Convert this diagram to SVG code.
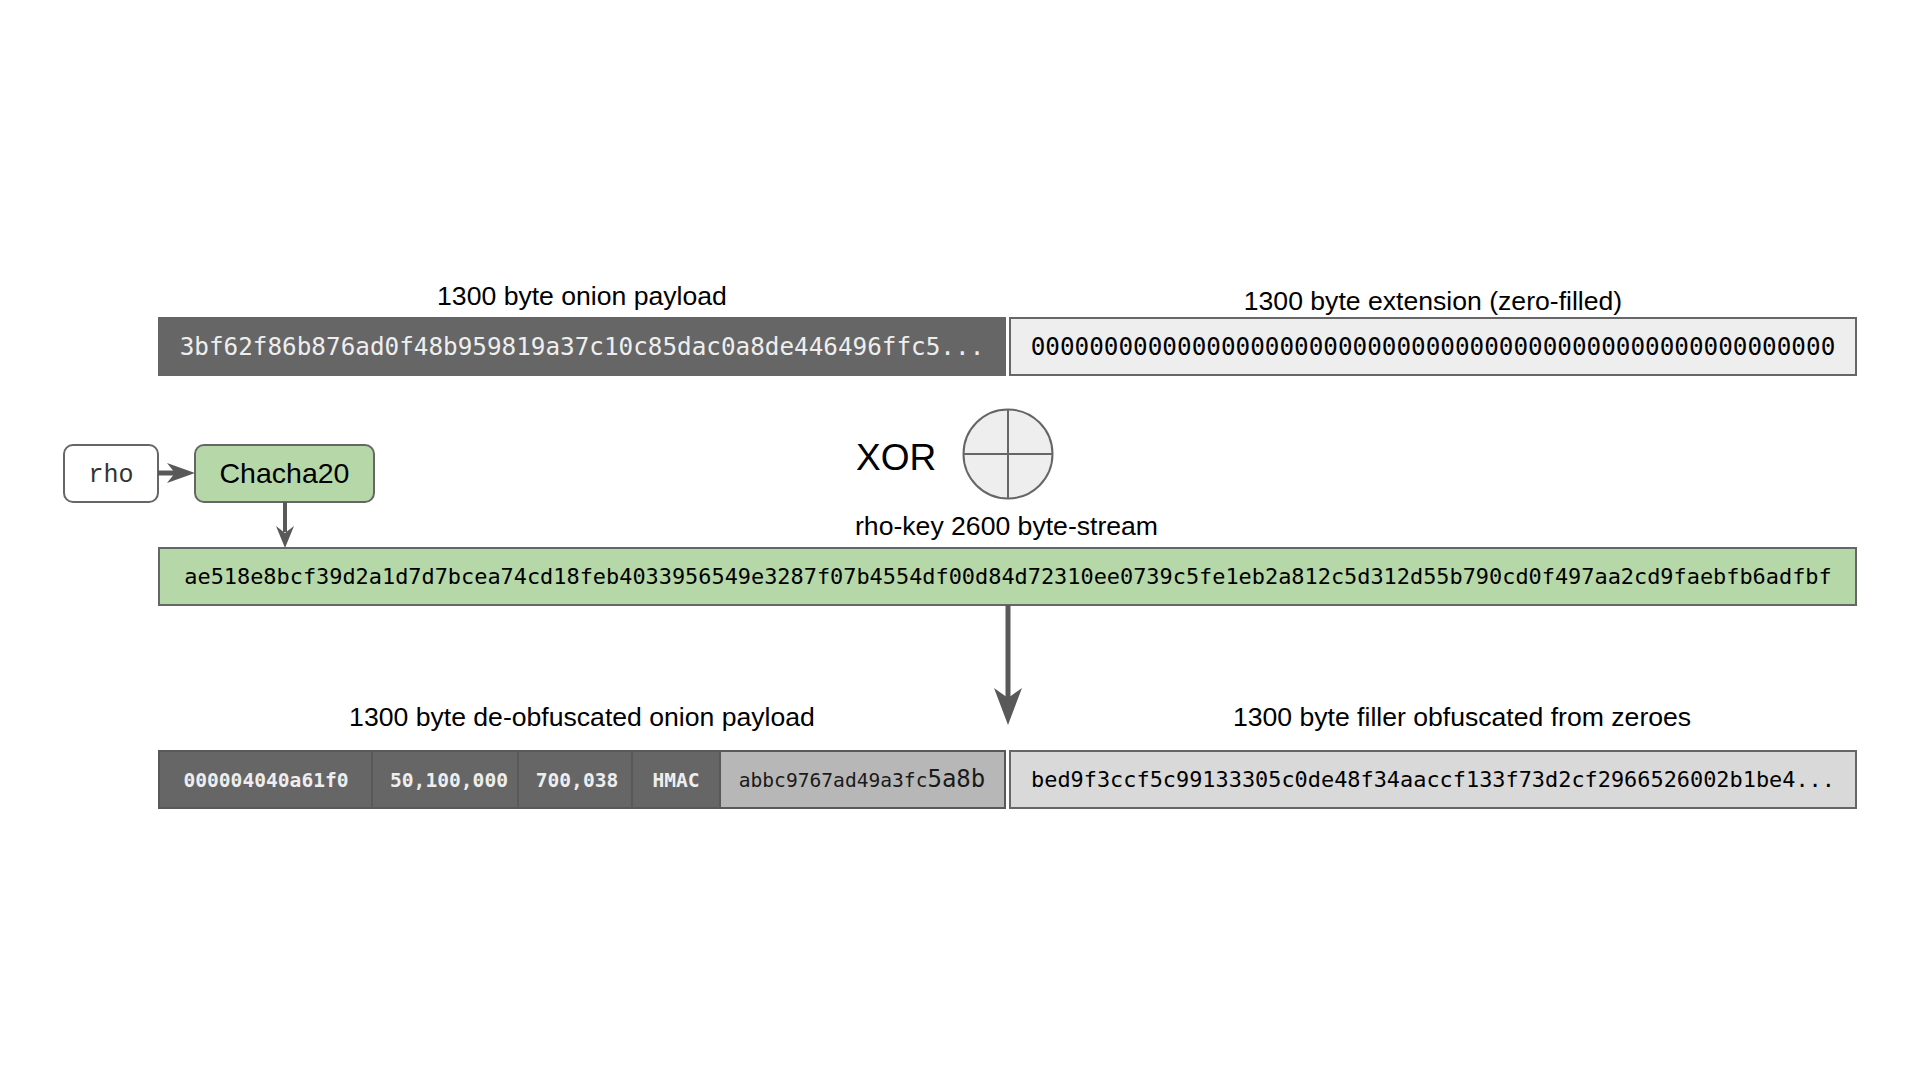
<svg xmlns="http://www.w3.org/2000/svg" width="1920" height="1080" viewBox="0 0 1920 1080">
<style>
.lbl{font-family:"Liberation Sans",Arial,sans-serif;fill:#000;font-size:26.6px}
.mono{font-family:"DejaVu Sans Mono",monospace}
.bar{stroke:#666;stroke-width:2}
.cell{font-family:"DejaVu Sans Mono",monospace;font-weight:bold;font-size:19.6px;fill:#eeeeee;text-anchor:middle}
.conn{stroke:#595959;fill:none}
.head{fill:#595959;stroke:none}
</style>
<rect width="1920" height="1080" fill="#fff"/>

<g id="onion-payload">
  <text class="lbl" x="582" y="305" text-anchor="middle">1300 byte onion payload</text>
  <rect class="bar" x="159" y="318" width="846" height="57" fill="#666666"/>
  <text class="mono" x="582" y="355" font-size="24.3" fill="#eeeeee" text-anchor="middle">3bf62f86b876ad0f48b959819a37c10c85dac0a8de446496ffc5...</text>
</g>

<g id="extension">
  <text class="lbl" x="1433" y="310" text-anchor="middle">1300 byte extension (zero-filled)</text>
  <rect class="bar" x="1010" y="318" width="846" height="57" fill="#eeeeee"/>
  <text class="mono" x="1433" y="355" font-size="24.3" fill="#000" text-anchor="middle">0000000000000000000000000000000000000000000000000000000</text>
</g>

<g id="rho">
  <rect x="64" y="445" width="94" height="57" rx="9" fill="#fff" stroke="#666" stroke-width="2"/>
  <text x="111" y="482" font-family="'Liberation Mono','Courier New',monospace" font-size="25" fill="#333" text-anchor="middle">rho</text>
</g>

<g id="chacha20">
  <rect x="195" y="445" width="179" height="57" rx="9" fill="#b6d7a8" stroke="#666" stroke-width="2"/>
  <text x="284.5" y="483" font-family="'Liberation Sans',Arial,sans-serif" font-size="28.5" fill="#000" text-anchor="middle">Chacha20</text>
</g>

<g id="xor">
  <text x="856" y="470" font-family="'Liberation Sans',Arial,sans-serif" font-size="37" fill="#000">XOR</text>
  <circle cx="1008" cy="454" r="44.5" fill="#eeeeee" stroke="#666" stroke-width="2"/>
  <line x1="963.5" y1="454" x2="1052.5" y2="454" stroke="#666" stroke-width="2"/>
  <line x1="1008" y1="409.5" x2="1008" y2="498.5" stroke="#666" stroke-width="2"/>
</g>

<g id="rho-key-stream">
  <text class="lbl" x="855" y="535">rho-key 2600 byte-stream</text>
  <rect class="bar" x="159" y="548" width="1697" height="57" fill="#b6d7a8"/>
  <text class="mono" x="1008" y="584" font-size="21.9" fill="#000" text-anchor="middle">ae518e8bcf39d2a1d7d7bcea74cd18feb4033956549e3287f07b4554df00d84d72310ee0739c5fe1eb2a812c5d312d55b790cd0f497aa2cd9faebfb6adfbf</text>
</g>

<g id="deobfuscated-payload">
  <text class="lbl" x="582" y="726" text-anchor="middle">1300 byte de-obfuscated onion payload</text>
  <rect x="159" y="751" width="213" height="57" fill="#666666"/>
  <rect x="372" y="751" width="146" height="57" fill="#666666"/>
  <rect x="518" y="751" width="114" height="57" fill="#666666"/>
  <rect x="632" y="751" width="88" height="57" fill="#666666"/>
  <rect x="720" y="751" width="285" height="57" fill="#b7b7b7"/>
  <g stroke="#595959" stroke-width="2" fill="none">
    <line x1="372" y1="751" x2="372" y2="808"/>
    <line x1="518" y1="751" x2="518" y2="808"/>
    <line x1="632" y1="751" x2="632" y2="808"/>
    <line x1="720" y1="751" x2="720" y2="808"/>
    <rect x="159" y="751" width="846" height="57"/>
  </g>
  <text class="cell" x="266" y="787">000004040a61f0</text>
  <text class="cell" x="449" y="787">50,100,000</text>
  <text class="cell" x="577" y="787">700,038</text>
  <text class="cell" x="676" y="787">HMAC</text>
  <text x="862" y="787" font-family="'DejaVu Sans Mono',monospace" font-size="19.6" fill="#1a1a1a" text-anchor="middle">abbc9767ad49a3fc<tspan font-size="24">5a8b</tspan></text>
</g>

<g id="filler">
  <text class="lbl" x="1462" y="726" text-anchor="middle">1300 byte filler obfuscated from zeroes</text>
  <rect class="bar" x="1010" y="751" width="846" height="57" fill="#d9d9d9"/>
  <text class="mono" x="1433" y="787" font-size="21.9" fill="#000" text-anchor="middle">bed9f3ccf5c99133305c0de48f34aaccf133f73d2cf2966526002b1be4...</text>
</g>

<g id="connectors">
  <line class="conn" x1="158" y1="473" x2="176" y2="473" stroke-width="5"/>
  <path class="head" d="M195,473 L167,463 L175,473 L167,483 Z"/>
  <line class="conn" x1="285" y1="502" x2="285" y2="532" stroke-width="4"/>
  <path class="head" d="M285,548 L276,526 L285,533 L294,526 Z"/>
  <line class="conn" x1="1008" y1="605" x2="1008" y2="700" stroke-width="5"/>
  <path class="head" d="M1008,725 L994,688 L1008,698 L1022,688 Z"/>
</g>
</svg>
